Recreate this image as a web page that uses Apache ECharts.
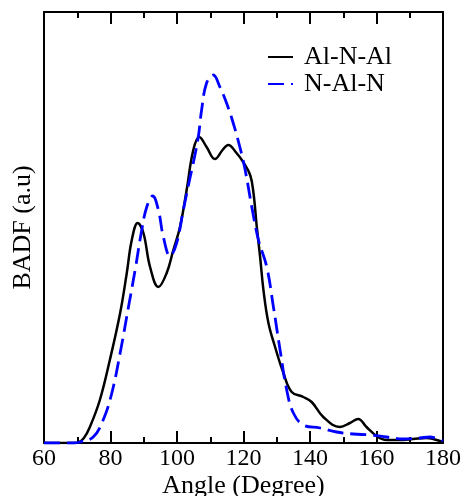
<!DOCTYPE html>
<html>
<head>
<meta charset="utf-8">
<script src="https://cdn.jsdelivr.net/npm/echarts@6/dist/echarts.min.js"></script>
<style>
  html, body { margin: 0; padding: 0; background: #fff; }
  #chart { width: 464px; height: 496px; }
</style>
</head>
<body>
<div id="chart"></div>
<script>
// angle (degree) and BADF intensity (a.u)
const alnalAngle = [60, 68, 70, 72, 73.8, 76.8, 79.8, 82.9, 84.9, 86.4, 88.2, 89.9, 91.9, 94.4, 96.9, 98.9, 100.9, 102.9, 104.9, 106.7, 108.9, 111.4, 113.7, 115.4, 117.9, 119.9, 122, 123, 124, 125, 126, 127.5, 129.5, 132, 134.5, 138, 140.5, 144, 149, 152, 154.5, 157, 160, 163, 167, 171, 175, 177, 180];
const alnalValue = [0, 0, 0.003, 0.05, 0.16, 0.43, 0.83, 1.30, 1.70, 2.03, 2.20, 2.10, 1.76, 1.56, 1.70, 1.93, 2.16, 2.53, 2.93, 3.06, 2.96, 2.84, 2.93, 2.98, 2.90, 2.81, 2.68, 2.50, 2.16, 1.86, 1.53, 1.20, 0.96, 0.70, 0.51, 0.46, 0.41, 0.26, 0.16, 0.20, 0.24, 0.16, 0.07, 0.03, 0.03, 0.04, 0.05, 0.04, 0.01];

const nalnAngle = [60, 69, 70.8, 74.8, 77.8, 80.4, 82.9, 85.4, 87.4, 89.4, 90.9, 92.7, 94.4, 95.9, 97.9, 99.9, 101.9, 103.9, 104.9, 106.4, 107.4, 108.9, 110.9, 112.9, 114.9, 116.9, 118.9, 120.5, 122.5, 124.5, 127, 129, 131, 133, 135, 138, 143, 148, 153, 158, 163, 168, 173, 176, 180];
const nalnValue = [0, 0, 0.01, 0.06, 0.23, 0.50, 0.90, 1.36, 1.73, 2.13, 2.36, 2.47, 2.33, 2.06, 1.87, 2.00, 2.33, 2.65, 2.80, 3.06, 3.33, 3.60, 3.68, 3.56, 3.40, 3.20, 2.96, 2.73, 2.36, 2.03, 1.76, 1.36, 0.93, 0.53, 0.30, 0.18, 0.15, 0.11, 0.09, 0.08, 0.06, 0.04, 0.05, 0.06, 0.02];

const seriesNames = ['Al-N-Al', 'N-Al-N'];
const xTicks = [60, 80, 100, 120, 140, 160, 180];

const pair = (xs, ys) => xs.map((x, i) => [x, ys[i]]);

const font = 'Liberation Serif';
const chart = echarts.init(document.getElementById('chart'));

const tickStyle = {
  axisLine: { show: true, onZero: false, lineStyle: { color: '#000', width: 2 } },
  axisTick: { show: true, inside: true, length: 12, lineStyle: { color: '#000', width: 2 } },
  minorTick: { show: true, splitNumber: 2, length: 6, lineStyle: { color: '#000', width: 2 } },
  splitLine: { show: false }
};

chart.setOption({
  animation: false,
  backgroundColor: '#fff',
  grid: { left: 44, right: 21, top: 12, bottom: 53, containLabel: false, outerBoundsMode: 'none' },
  legend: {
    orient: 'vertical',
    left: 262,
    top: 39,
    itemWidth: 25,
    itemHeight: 14,
    itemGap: 1,
    data: seriesNames,
    itemStyle: { opacity: 0 },
    textStyle: { fontFamily: font, fontSize: 26, color: '#000', padding: [0, 0, 0, 6] }
  },
  xAxis: [
    Object.assign({
      type: 'value', min: xTicks[0], max: xTicks[xTicks.length - 1], interval: 20,
      name: 'Angle (Degree)', nameLocation: 'middle', nameGap: 30, nameMoveOverlap: false,
      nameTextStyle: { fontFamily: font, fontSize: 26, color: '#000' },
      axisLabel: { fontFamily: font, fontSize: 24, color: '#000', margin: 4 }
    }, tickStyle),
    Object.assign({
      type: 'value', position: 'top', min: 60, max: 180, interval: 20,
      axisLabel: { show: false }
    }, tickStyle)
  ],
  yAxis: [
    {
      type: 'value', min: 0, max: 4.31,
      name: 'BADF (a.u)', nameLocation: 'middle', nameGap: 8, nameMoveOverlap: false,
      nameTextStyle: { fontFamily: font, fontSize: 26, color: '#000' },
      axisLine: { show: true, onZero: false, lineStyle: { color: '#000', width: 2 } },
      axisTick: { show: false }, axisLabel: { show: false }, splitLine: { show: false }
    },
    {
      type: 'value', position: 'right', min: 0, max: 4.31,
      axisLine: { show: true, onZero: false, lineStyle: { color: '#000', width: 2 } },
      axisTick: { show: false }, axisLabel: { show: false }, splitLine: { show: false }
    }
  ],
  series: [
    {
      name: seriesNames[0], type: 'line', smooth: 0.4, symbol: 'none',
      lineStyle: { color: '#000', width: 2.5 },
      itemStyle: { color: '#000' },
      data: pair(alnalAngle, alnalValue)
    },
    {
      name: seriesNames[1], type: 'line', smooth: 0.4, symbol: 'none',
      lineStyle: { color: '#0000ff', width: 2.8, type: [16, 7] },
      itemStyle: { color: '#0000ff' },
      data: pair(nalnAngle, nalnValue)
    }
  ]
});
</script>
</body>
</html>
